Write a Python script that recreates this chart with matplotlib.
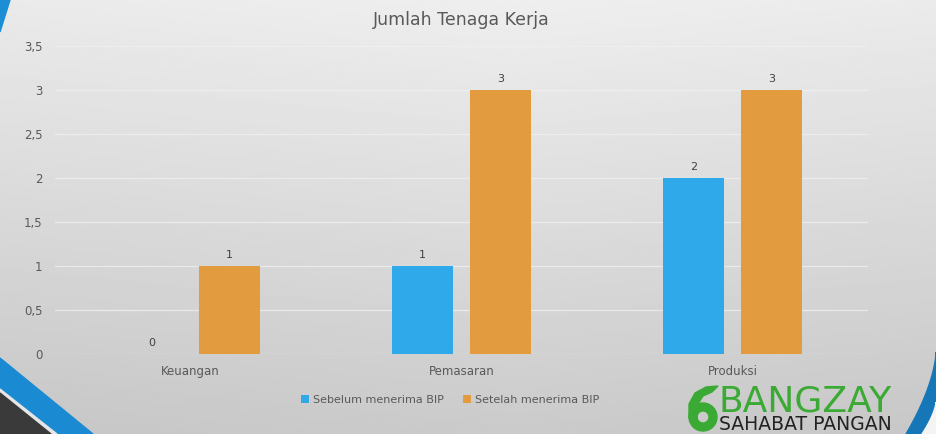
import numpy as np
import matplotlib.pyplot as plt
from matplotlib.patches import Polygon, Wedge

categories = ['Keuangan', 'Pemasaran', 'Produksi']
sebelum = [0, 1, 2]
setelah = [1, 3, 3]
yticks = [0, 0.5, 1, 1.5, 2, 2.5, 3, 3.5]
ytick_labels = ['0', '0,5', '1', '1,5', '2', '2,5', '3', '3,5']

blue = '#2FA9EA'
orange = '#E29C3F'
txt = '#595959'
green = '#3BAA35'
W, H = 936, 434

fig = plt.figure(figsize=(9.36, 4.34), dpi=100)

# gradient background, drawn in pixel coords
bg = fig.add_axes([0, 0, 1, 1], zorder=-10)
yy, xx = np.mgrid[0:1:200j, 0:1:300j]
shade = 0.935 - 0.14 * yy - 0.03 * np.abs(xx - 0.55)
bg.imshow(shade, cmap='gray', vmin=0, vmax=1, extent=[0, W, H, 0], aspect='auto')
bg.set_xlim(0, W)
bg.set_ylim(H, 0)
bg.axis('off')

# corner decorations
bg.add_patch(Polygon([(0, 0), (10, 0), (0, 32)], closed=True, color='#1B8ED6'))
bg.add_patch(Polygon([(0, 358), (93, 434), (0, 434)], closed=True, color='#1A8AD2'))
bg.add_patch(Polygon([(0, 389), (57, 434), (0, 434)], closed=True, color='#e6e6e6'))
bg.add_patch(Polygon([(0, 393), (51, 434), (0, 434)], closed=True, color='#3A3A3A'))
t = np.linspace(0, 1, 40)
outer = list(zip(936 - 30 * t ** 1.6, 352 + 82 * t))
bg.add_patch(Polygon(outer + [(936, 434)], closed=True, color='#1677B8'))
inner = list(zip(936 - 14 * t ** 1.5, 402 + 32 * t))
bg.add_patch(Polygon(inner + [(936, 434)], closed=True, color='#f4f4f4'))

# logo: ring + leaf, then the words
bg.add_patch(Wedge((703, 417), 14, 0, 360, width=8, color=green))
bg.add_patch(Polygon([(689, 418), (689, 404), (695, 393), (706, 387), (718, 386),
                      (712, 392), (703, 396), (698, 404), (697, 418)],
                     closed=True, color=green))
bg.text(718, 412, 'BANGZAY', color=green, fontsize=26, ha='left',
        va='baseline')
bg.text(719, 430, 'SAHABAT PANGAN', color='#222222', fontsize=13.5, ha='left',
        va='baseline')

ax = fig.add_axes([55 / W, 1 - 354 / H, 813 / W, 308 / H])
ax.patch.set_alpha(0)

x = np.arange(len(categories))
w = 0.226
off = 0.143
b1 = ax.bar(x - off, sebelum, w, color=blue, label='Sebelum menerima BIP', zorder=3)
b2 = ax.bar(x + off, setelah, w, color=orange, label='Setelah menerima BIP', zorder=3)
for bars in (b1, b2):
    ax.bar_label(bars, padding=4, fontsize=8, color='#404040')

ax.set_xlim(-0.5, 2.5)
ax.set_ylim(0, 3.5)
ax.set_yticks(yticks)
ax.set_yticklabels(ytick_labels)
ax.set_xticks(x)
ax.set_xticklabels(categories)
ax.tick_params(axis='both', length=0, colors=txt, labelsize=8.5)
ax.tick_params(axis='y', pad=9)
ax.tick_params(axis='x', pad=8)
ax.grid(axis='y', color='#f0f0f0', linewidth=0.9, alpha=0.8, zorder=0)
for s in ax.spines.values():
    s.set_visible(False)

ax.set_title('Jumlah Tenaga Kerja', fontsize=12.5, color=txt, pad=15)
leg = ax.legend(loc='upper center', bbox_to_anchor=(0.486, -0.1), ncol=2,
                frameon=False, fontsize=8, handlelength=0.7, handleheight=0.7,
                handletextpad=0.3, columnspacing=1.8)
for tx in leg.get_texts():
    tx.set_color(txt)

fig.savefig('out.png', dpi=100)
